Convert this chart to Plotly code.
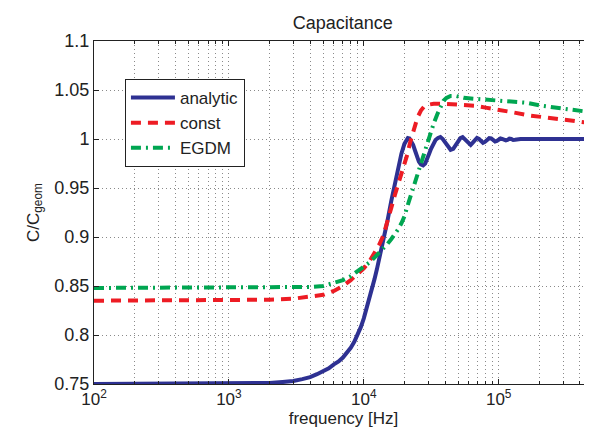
import plotly.graph_objects as go

# ---- data ----
freq_analytic = [100, 500, 1000, 1500, 2000, 2500, 3000, 3500, 4000, 4500, 5000, 5500,
                 6000, 6500, 7000, 7500, 8000, 8500, 9000, 9500, 10000, 10500, 11000,
                 11500, 12000, 12500, 13000, 14000, 15000, 16000, 17000, 18000, 19000,
                 20000, 20600, 21200, 21800, 22500, 23200, 24000, 24800, 25600, 26500,
                 27500, 28500, 29500, 30500, 31500, 32700, 34000, 35500, 37000, 38500,
                 40000, 42000, 44000, 46000, 48000, 50000, 52000, 54000, 56000, 58000,
                 60000, 62000, 64000, 66500, 69000, 71500, 74000, 76500, 79000, 82000,
                 85000, 88000, 91000, 94000, 97000, 100000, 103000, 106000, 110000,
                 113000, 116000, 120000, 124000, 128000, 132000, 137000, 145000, 200000,
                 500000]
c_analytic = [0.75, 0.7502, 0.7505, 0.7508, 0.751, 0.752, 0.753, 0.755, 0.757, 0.760,
              0.763, 0.766, 0.770, 0.773, 0.777, 0.782, 0.787, 0.793, 0.800, 0.808,
              0.817, 0.827, 0.837, 0.847, 0.857, 0.867, 0.877, 0.897, 0.917, 0.937,
              0.955, 0.971, 0.985, 0.995, 0.999, 1.001, 1.0005, 0.998, 0.994, 0.988,
              0.982, 0.977, 0.974, 0.973, 0.975, 0.979, 0.985, 0.990, 0.995, 0.999,
              1.001, 1.002, 1.000, 0.997, 0.992, 0.989, 0.990, 0.994, 0.998, 1.001,
              1.002, 1.000, 0.997, 0.995, 0.994, 0.996, 0.999, 1.001, 1.000, 0.998,
              0.996, 0.997, 0.999, 1.0008, 1.0005, 0.9985, 0.9975, 0.998, 0.9995,
              1.0005, 1.0, 0.9988, 0.9985, 0.999, 1.0003, 1.0, 0.999, 0.9992, 0.9999,
              1.0, 1.0, 1.0]

freq_const = [100, 1000, 2000, 3000, 4000, 5000, 6000, 7000, 8000, 9000, 10000, 11000,
              12000, 13000, 14000, 15000, 16000, 17000, 18000, 19000, 20000, 21000,
              22000, 23000, 24000, 25000, 26500, 28000, 30000, 33000, 38000, 45000,
              55000, 66500, 80000, 100000, 130000, 170000, 220000, 300000, 400000, 500000]
c_const = [0.835, 0.835, 0.836, 0.837, 0.839, 0.841, 0.845, 0.850, 0.856, 0.862, 0.868,
           0.875, 0.883, 0.892, 0.902, 0.915, 0.930, 0.943, 0.954, 0.963, 0.972, 0.984,
           0.996, 1.006, 1.015, 1.022, 1.029, 1.033, 1.035, 1.036, 1.036, 1.0355,
           1.035, 1.034, 1.032, 1.030, 1.027, 1.024, 1.022, 1.019, 1.017, 1.016]

freq_egdm = [100, 1000, 2000, 3000, 4000, 5000, 6000, 7000, 8000, 9000, 10000, 11000,
             12000, 13000, 14000, 15000, 16000, 17000, 18000, 19000, 20000, 21000,
             22000, 23000, 24000, 25000, 26000, 27000, 28000, 29000, 30000, 31500,
             33000, 35000, 37000, 39000, 41000, 44000, 48000, 55000, 66500, 85000,
             117000, 160000, 208000, 300000, 400000, 500000]
c_egdm = [0.848, 0.848, 0.848, 0.848, 0.849, 0.850, 0.853, 0.856, 0.860, 0.865, 0.870,
          0.874, 0.879, 0.884, 0.888, 0.893, 0.898, 0.903, 0.908, 0.914, 0.921, 0.931,
          0.940, 0.948, 0.956, 0.963, 0.971, 0.978, 0.985, 0.992, 0.998, 1.007, 1.016,
          1.025, 1.033, 1.039, 1.042, 1.044, 1.044, 1.042, 1.041, 1.040, 1.039, 1.037,
          1.034, 1.031, 1.029, 1.027]

x_major = [1e2, 1e3, 1e4, 1e5]
x_major_text = ["10<sup>2</sup>", "10<sup>3</sup>", "10<sup>4</sup>", "10<sup>5</sup>"]
x_minor = [m * 10 ** e for e in range(2, 6) for m in range(2, 10) if m * 10 ** e <= 5e5]
y_ticks = [0.75, 0.8, 0.85, 0.9, 0.95, 1.0, 1.05, 1.1]
y_text = ["0.75", "0.8", "0.85", "0.9", "0.95", "1", "1.05", "1.1"]

FONT = "Liberation Sans, Arial, Helvetica, sans-serif"
INK = "#222"
GRID = "#8a8a8a"

fig = go.Figure()
fig.add_trace(go.Scatter(x=freq_analytic, y=c_analytic, mode="lines", name="analytic",
                         line=dict(color="#2E3192", width=4)))
fig.add_trace(go.Scatter(x=freq_const, y=c_const, mode="lines", name="const",
                         line=dict(color="#ED1C24", width=4, dash="10px,7px")))
fig.add_trace(go.Scatter(x=freq_egdm, y=c_egdm, mode="lines", name="EGDM",
                         line=dict(color="#00A651", width=4, dash="10px,5px,2px,5px")))

fig.update_layout(
    width=592, height=430,
    margin=dict(l=86, r=7, t=33, b=54),
    paper_bgcolor="white", plot_bgcolor="white",
    font=dict(family=FONT, size=16, color=INK),
    title=dict(text="Capacitance", x=0.5656, xanchor="center", y=0.965, yanchor="middle",
               font=dict(size=18, color=INK)),
    showlegend=True,
    legend=dict(x=0.062, y=0.889, xanchor="left", yanchor="top",
                bgcolor="white", bordercolor=INK, borderwidth=1, itemwidth=44,
                font=dict(size=17, color=INK), tracegroupgap=0),
)

fig.update_xaxes(
    type="log", range=[2, 5.69897],
    tickmode="array", tickvals=x_major, ticktext=x_major_text,
    ticks="inside", ticklen=5, tickcolor=INK, mirror="allticks",
    showline=True, linecolor=INK, linewidth=1,
    showgrid=True, gridcolor=GRID, gridwidth=1, griddash="1px,3px",
    minor=dict(tickmode="array", tickvals=x_minor, ticks="inside", ticklen=3,
               tickcolor=INK, showgrid=True, gridcolor=GRID, gridwidth=1,
               griddash="1px,3px"),
    title=dict(text="frequency [Hz]", font=dict(size=17, color=INK), standoff=2),
    tickfont=dict(size=17, color=INK),
    zeroline=False,
)
fig.update_yaxes(
    range=[0.75, 1.1], tickmode="array", tickvals=y_ticks, ticktext=y_text,
    ticks="inside", ticklen=5, tickcolor=INK, mirror="allticks",
    showline=True, linecolor=INK, linewidth=1,
    showgrid=True, gridcolor=GRID, gridwidth=1, griddash="1px,3px",
    title=dict(text="C/C<sub>geom</sub>", font=dict(size=17, color=INK), standoff=10),
    tickfont=dict(size=18, color=INK),
    zeroline=False,
)

fig.write_html("out.html")
